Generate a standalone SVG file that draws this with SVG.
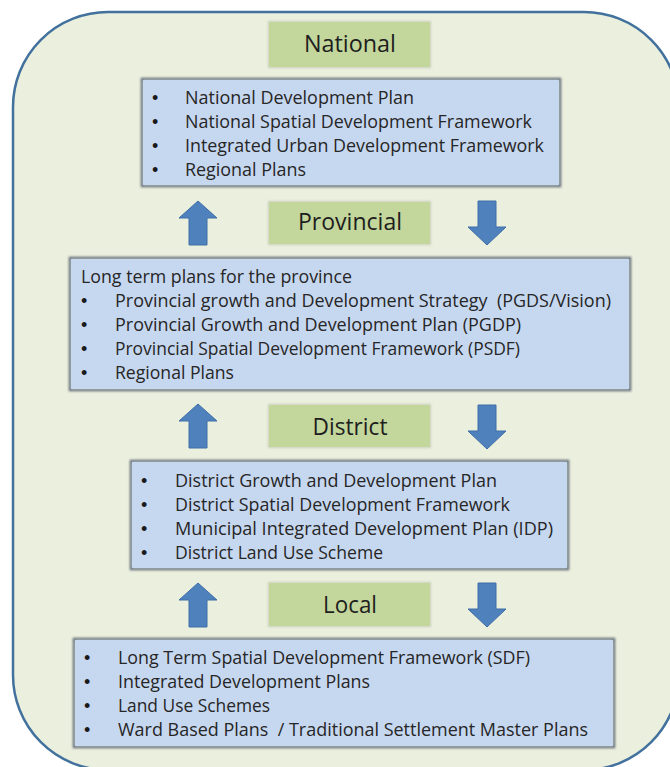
<svg xmlns="http://www.w3.org/2000/svg" width="670" height="767" viewBox="0 0 670 767">
<style>
.body{font-family:"Open Sans","Liberation Sans",sans-serif;font-size:18px;fill:#262626}
.bul{font-family:"Liberation Sans",sans-serif;font-size:18px;fill:#1a1a1a}
.lbl{font-family:"Open Sans","Liberation Sans",sans-serif;font-size:23px;fill:#1e1e1e;text-anchor:middle}
.blue{fill:#C6D8F0}
.blueedge{fill:none;stroke:#66717e;stroke-width:2.5}
.green{fill:#C3D69B}
.greenedge{fill:none;stroke:#c9cdbd;stroke-width:2}
.arrow{fill:#4F81BD;stroke:#3f6ea8;stroke-width:1}
</style>
<defs>
<filter id="soft" x="-5%" y="-5%" width="110%" height="110%">
<feGaussianBlur stdDeviation="0.9"/>
</filter>
</defs>
<rect width="670" height="767" fill="#ffffff"/>
<rect id="frame" x="13" y="12" width="666" height="758" rx="95" ry="95" fill="#EBEFDD" stroke="#41719C" stroke-width="2.5"/>

<g id="national">
<rect class="greenedge" x="269" y="22" width="161" height="45" filter="url(#soft)"/>
<rect class="green" x="269" y="22" width="161" height="45"/>
<text class="lbl" x="350" y="52" textLength="92" lengthAdjust="spacingAndGlyphs">National</text>
</g>

<g id="national-plans">
<rect class="blueedge" x="142" y="79" width="418" height="107" filter="url(#soft)"/>
<rect class="blue" x="143" y="80" width="416" height="105"/>
<text class="bul" x="152" y="104">•</text><text class="body" x="185" y="104" textLength="229" lengthAdjust="spacingAndGlyphs">National Development Plan</text>
<text class="bul" x="152" y="128">•</text><text class="body" x="185" y="128" textLength="347" lengthAdjust="spacingAndGlyphs">National Spatial Development Framework</text>
<text class="bul" x="152" y="152">•</text><text class="body" x="185" y="152" textLength="359" lengthAdjust="spacingAndGlyphs">Integrated Urban Development Framework</text>
<text class="bul" x="152" y="176">•</text><text class="body" x="185" y="176" textLength="121" lengthAdjust="spacingAndGlyphs">Regional Plans</text>
</g>

<g id="provincial">
<rect class="greenedge" x="269" y="202" width="161" height="42" filter="url(#soft)"/>
<rect class="green" x="269" y="202" width="161" height="42"/>
<text class="lbl" x="350" y="230" textLength="104" lengthAdjust="spacingAndGlyphs">Provincial</text>
</g>

<g id="provincial-plans">
<rect class="blueedge" x="70" y="258" width="560" height="132" filter="url(#soft)"/>
<rect class="blue" x="71" y="259" width="558" height="130"/>
<text class="body" x="81" y="283" textLength="271" lengthAdjust="spacingAndGlyphs">Long term plans for the province</text>
<text class="bul" x="81" y="307">•</text><text class="body" x="115" y="307" textLength="496" lengthAdjust="spacingAndGlyphs" xml:space="preserve">Provincial growth and Development Strategy  (PGDS/Vision)</text>
<text class="bul" x="81" y="331">•</text><text class="body" x="115" y="331" textLength="406" lengthAdjust="spacingAndGlyphs">Provincial Growth and Development Plan (PGDP)</text>
<text class="bul" x="81" y="355">•</text><text class="body" x="115" y="355" textLength="405" lengthAdjust="spacingAndGlyphs">Provincial Spatial Development Framework (PSDF)</text>
<text class="bul" x="81" y="379">•</text><text class="body" x="115" y="379" textLength="119" lengthAdjust="spacingAndGlyphs">Regional Plans</text>
</g>

<g id="district">
<rect class="greenedge" x="269" y="405" width="161" height="42" filter="url(#soft)"/>
<rect class="green" x="269" y="405" width="161" height="42"/>
<text class="lbl" x="350" y="435" textLength="75" lengthAdjust="spacingAndGlyphs">District</text>
</g>

<g id="district-plans">
<rect class="blueedge" x="131" y="461" width="437" height="108" filter="url(#soft)"/>
<rect class="blue" x="132" y="462" width="435" height="106"/>
<text class="bul" x="141" y="487">•</text><text class="body" x="175" y="487" textLength="322" lengthAdjust="spacingAndGlyphs">District Growth and Development Plan</text>
<text class="bul" x="141" y="511">•</text><text class="body" x="175" y="511" textLength="335" lengthAdjust="spacingAndGlyphs">District Spatial Development Framework</text>
<text class="bul" x="141" y="535">•</text><text class="body" x="175" y="535" textLength="378" lengthAdjust="spacingAndGlyphs">Municipal Integrated Development Plan (IDP)</text>
<text class="bul" x="141" y="559">•</text><text class="body" x="175" y="559" textLength="208" lengthAdjust="spacingAndGlyphs">District Land Use Scheme</text>
</g>

<g id="local">
<rect class="greenedge" x="269" y="583" width="161" height="43" filter="url(#soft)"/>
<rect class="green" x="269" y="583" width="161" height="43"/>
<text class="lbl" x="350" y="613" textLength="54" lengthAdjust="spacingAndGlyphs">Local</text>
</g>

<g id="local-plans">
<rect class="blueedge" x="74" y="639" width="540" height="108" filter="url(#soft)"/>
<rect class="blue" x="75" y="640" width="538" height="106"/>
<text class="bul" x="84" y="664">•</text><text class="body" x="118" y="664" textLength="412" lengthAdjust="spacingAndGlyphs">Long Term Spatial Development Framework (SDF)</text>
<text class="bul" x="84" y="688">•</text><text class="body" x="118" y="688" textLength="252" lengthAdjust="spacingAndGlyphs">Integrated Development Plans</text>
<text class="bul" x="84" y="712">•</text><text class="body" x="118" y="712" textLength="152" lengthAdjust="spacingAndGlyphs">Land Use Schemes</text>
<text class="bul" x="84" y="736">•</text><text class="body" x="118" y="736" textLength="470" lengthAdjust="spacingAndGlyphs" xml:space="preserve">Ward Based Plans  / Traditional Settlement Master Plans</text>
</g>

<g id="connectors">
<defs>
<path id="up" d="M0,-22 L19,-5 L9,-5 L9,22 L-9,22 L-9,-5 L-19,-5 Z"/>
<path id="down" d="M0,22 L19,4 L9,4 L9,-22 L-9,-22 L-9,4 L-19,4 Z"/>
</defs>
<use href="#up" class="arrow" x="198" y="223"/>
<use href="#down" class="arrow" x="487" y="223"/>
<use href="#up" class="arrow" x="198" y="426"/>
<use href="#down" class="arrow" x="487" y="427"/>
<use href="#up" class="arrow" x="198" y="605"/>
<use href="#down" class="arrow" x="487" y="605"/>
</g>
</svg>
